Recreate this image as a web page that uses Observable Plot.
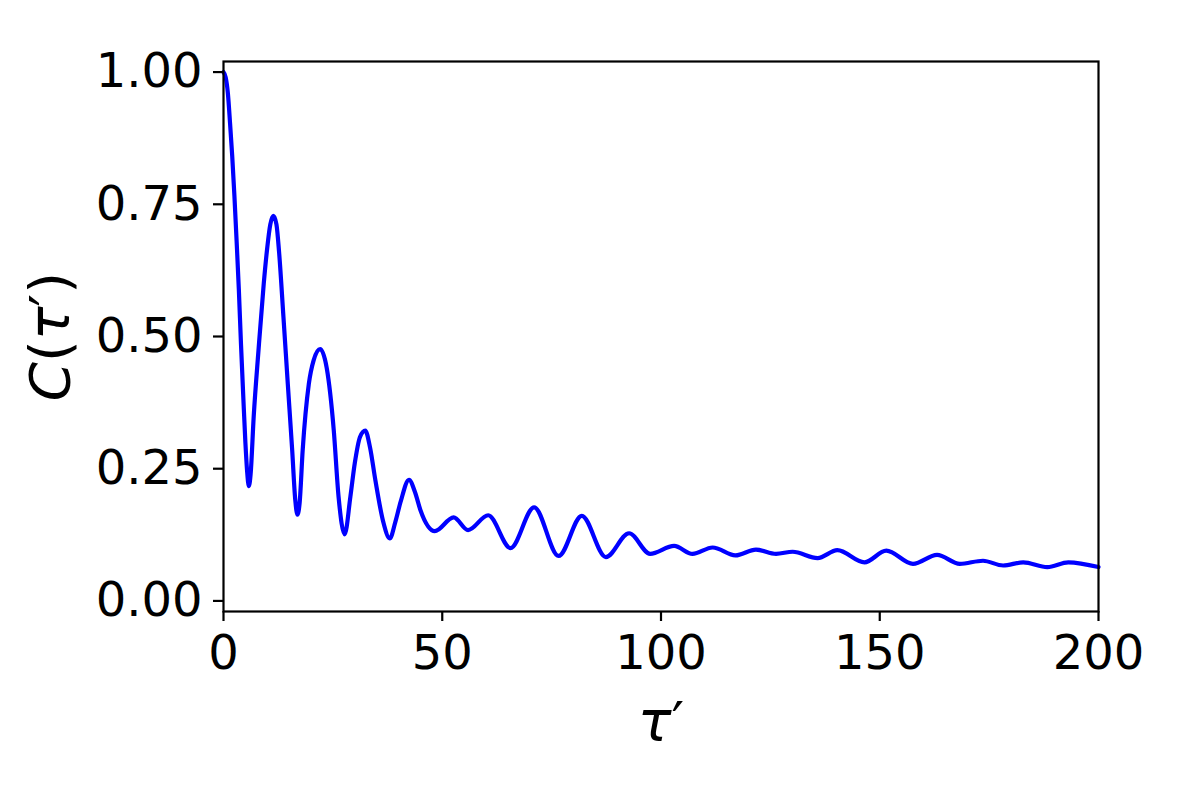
<!DOCTYPE html>
<html>
<head>
<meta charset="utf-8">
<script src="https://cdn.jsdelivr.net/npm/d3@7"></script>
<script src="https://cdn.jsdelivr.net/npm/@observablehq/plot@0.6"></script>
<style>
  html, body { margin: 0; padding: 0; background: #fff; }
  #chart { width: 1200px; height: 800px; }
</style>
</head>
<body>
<div id="chart"></div>
<script>
// Values
const tau = [0, 0.5, 1.0, 1.5, 2.0, 2.5, 3.0, 3.5, 4.0, 4.5, 5.0, 5.4, 5.8, 6.2, 6.9, 8.0, 9.2, 10.0, 10.7, 11.4, 12.1, 12.7, 13.7, 14.7, 15.7, 16.4, 16.9, 17.4, 18.1, 19.5, 20.6, 22.1, 23.6, 25.2, 26.3, 27.7, 29.0, 30.0, 31.2, 32.4, 33.5, 34.7, 36.5, 38.0, 39.3, 40.5, 42.4, 43.8, 45.0, 48.3, 52.6, 55.9, 60.5, 65.6, 71.0, 76.6, 81.9, 87.4, 92.7, 97.5, 103.0, 107.2, 111.8, 117.0, 121.7, 126.3, 130.1, 135.8, 140.3, 146.5, 151.5, 157.6, 163.1, 168.3, 173.6, 178.2, 182.8, 188.3, 193.1, 200];
const corr = [1.000, 0.990, 0.960, 0.903, 0.840, 0.765, 0.680, 0.590, 0.485, 0.390, 0.300, 0.245, 0.217, 0.240, 0.348, 0.474, 0.600, 0.668, 0.712, 0.728, 0.712, 0.660, 0.537, 0.410, 0.285, 0.191, 0.163, 0.185, 0.285, 0.410, 0.455, 0.476, 0.440, 0.323, 0.197, 0.126, 0.197, 0.260, 0.310, 0.322, 0.290, 0.229, 0.150, 0.118, 0.150, 0.188, 0.229, 0.205, 0.172, 0.132, 0.158, 0.134, 0.162, 0.100, 0.177, 0.085, 0.161, 0.083, 0.128, 0.089, 0.104, 0.089, 0.101, 0.086, 0.097, 0.089, 0.093, 0.081, 0.096, 0.073, 0.095, 0.070, 0.087, 0.070, 0.076, 0.067, 0.073, 0.064, 0.073, 0.064];
const xTicks = [0, 50, 100, 150, 200];
const yTicks = [0.00, 0.25, 0.50, 0.75, 1.00];
const xLabel = "τ′";
const yLabel = "C(τ′)";

const data = tau.map((t, i) => ({t, c: corr[i]}));

const chart = Plot.plot({
  width: 1200,
  height: 800,
  marginLeft: 223,
  marginRight: 102,
  marginTop: 61,
  marginBottom: 189,
  style: {fontFamily: "DejaVu Sans", fontSize: "48px", background: "#fff", color: "#000"},
  x: {domain: [0, 200]},
  y: {domain: [-0.02, 1.02]},
  marks: [
    Plot.line(data, {x: "t", y: "c", stroke: "#0000ff", strokeWidth: 4.2, curve: "monotone-x"}),
    Plot.frame({stroke: "#000", strokeWidth: 2.2}),
    Plot.axisX({ticks: xTicks, tickSize: 10, tickPadding: 13, fontSize: 48, strokeWidth: 2.2, label: null, tickFormat: d3.format("d")}),
    Plot.axisY({ticks: yTicks, tickSize: 10, tickPadding: 11, fontSize: 48, strokeWidth: 2.2, label: null, tickFormat: d3.format(".2f")}),
    Plot.text([xLabel], {text: d => d, frameAnchor: "bottom", dy: 129, lineAnchor: "bottom", textAnchor: "middle", fontSize: 56, fill: "#000"}),
    Plot.text([yLabel], {text: d => d, frameAnchor: "left", dx: -155, rotate: -90, lineAnchor: "bottom", textAnchor: "middle", fontSize: 56, fill: "#000"})
  ]
});
document.getElementById("chart").appendChild(chart);

// mixed italic / upright glyphs like mathtext
d3.select(chart).selectAll("text").each(function() {
  const t = this.textContent;
  if (t === yLabel || t === xLabel) {
    const sel = d3.select(this);
    sel.text(null);
    for (const ch of t) {
      sel.append("tspan").attr("font-style", (ch === "C" || ch === "τ") ? "italic" : "normal").text(ch);
    }
  }
});
</script>
</body>
</html>
